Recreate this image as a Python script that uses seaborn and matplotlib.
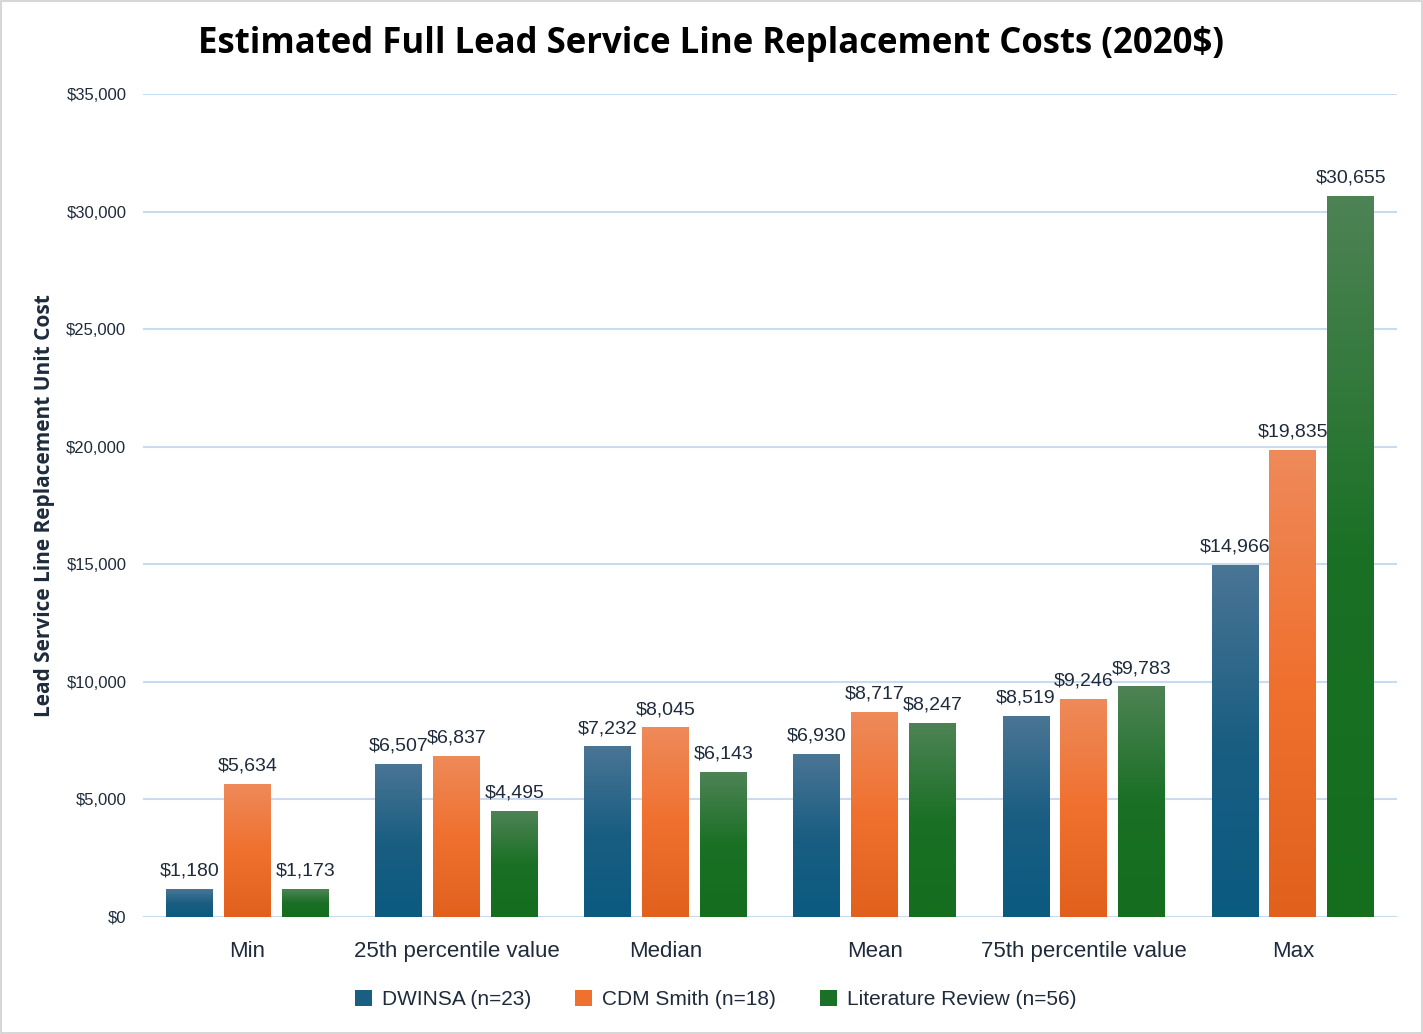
import numpy as np
import pandas as pd
import seaborn as sns
import matplotlib.pyplot as plt
from matplotlib.patches import Patch, Rectangle
from matplotlib.colors import LinearSegmentedColormap
from matplotlib.ticker import FuncFormatter, MultipleLocator

categories = ["Min", "25th percentile value", "Median", "Mean", "75th percentile value", "Max"]
series_names = ["DWINSA (n=23)", "CDM Smith (n=18)", "Literature Review (n=56)"]
dwinsa = [1180, 6507, 7232, 6930, 8519, 14966]
cdm_smith = [5634, 6837, 8045, 8717, 9246, 19835]
lit_review = [1173, 4495, 6143, 8247, 9783, 30655]

mid_colors = ["#1a5e82", "#f0702e", "#1a7025"]
top_colors = ["#4a7595", "#ee8a5a", "#4e8355"]
bot_colors = ["#0b5a80", "#e0601c", "#146e1e"]

text_color = "#1e2b3c"

rows = []
for name, vals in zip(series_names, [dwinsa, cdm_smith, lit_review]):
    for c, v in zip(categories, vals):
        rows.append({"category": c, "source": name, "value": v})
df = pd.DataFrame(rows)

sns.set_theme(style="white")
plt.rcParams["font.family"] = ["Liberation Sans", "DejaVu Sans"]

fig = plt.figure(figsize=(14.23, 10.34), dpi=100)
ax = fig.add_axes([0.1005, 0.1132, 0.8815, 0.7958])

sns.barplot(data=df, x="category", y="value", hue="source", order=categories,
            hue_order=series_names, palette=mid_colors, width=0.83, gap=0.19,
            legend=False, ax=ax, errorbar=None)

ax.set_ylim(0, 35000)
ax.set_xlim(-0.5, 5.5)

grad = np.linspace(0, 1, 256).reshape(-1, 1)
for i, cont in enumerate(ax.containers):
    cmap = LinearSegmentedColormap.from_list(f"g{i}", [bot_colors[i], mid_colors[i], top_colors[i]])
    for bar, val in zip(cont.patches, [dwinsa, cdm_smith, lit_review][i]):
        x0 = bar.get_x()
        w = bar.get_width()
        h = bar.get_height()
        ax.imshow(grad, extent=(x0, x0 + w, 0, h), origin="lower", cmap=cmap,
                  aspect="auto", zorder=2)
        bar.set_facecolor("none")
        bar.set_edgecolor("none")
        ax.annotate(f"${val:,.0f}", (x0 + w / 2, h), xytext=(0, 7),
                    textcoords="offset points", ha="center", va="bottom",
                    fontsize=14, color=text_color, zorder=4)

ax.set_ylim(0, 35000)
ax.set_xlim(-0.5, 5.5)

ax.yaxis.set_major_locator(MultipleLocator(5000))
ax.yaxis.set_major_formatter(FuncFormatter(lambda v, p: f"${v:,.0f}"))
ax.grid(axis="y", color="#c9dbef", linewidth=1.5, zorder=0)
ax.set_axisbelow(True)
for s in ax.spines.values():
    s.set_visible(False)
ax.tick_params(axis="y", length=0, pad=12, labelsize=12, labelcolor=text_color)
ax.tick_params(axis="x", length=0, pad=17, labelsize=16, labelcolor=text_color)
ax.set_xlabel("")
ax.set_ylabel("Lead Service Line Replacement Unit Cost", fontsize=15,
              fontweight="bold", color=text_color, labelpad=8,
              family=["Open Sans", "DejaVu Sans"])

fig.text(0.5, 0.957, "Estimated Full Lead Service Line Replacement Costs (2020$)",
         ha="center", va="center", fontsize=25, fontweight="bold", color="black",
         family=["Open Sans", "DejaVu Sans"])

handles = [Patch(facecolor=c, edgecolor="none") for c in mid_colors]
fig.legend(handles, series_names, loc="center", bbox_to_anchor=(0.503, 0.033), ncol=3,
           frameon=False, fontsize=15, handlelength=0.8, handleheight=0.8,
           handletextpad=0.5, columnspacing=2.1, labelcolor=text_color)

fig.patches.append(Rectangle((0.001, 0.001), 0.998, 0.998, transform=fig.transFigure,
                             fill=False, edgecolor="#d0d0d0", linewidth=1.2))

fig.savefig("out.png", dpi=100)
